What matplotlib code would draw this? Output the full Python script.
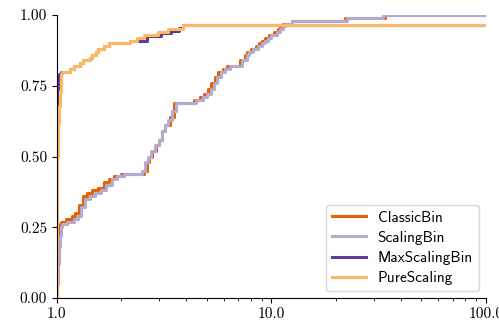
import numpy as np
import matplotlib
matplotlib.use("Agg")
import matplotlib.pyplot as plt
from matplotlib.ticker import FormatStrFormatter, LogLocator, NullFormatter

# step breakpoints (x = ratio, y = fraction of instances)
classic_x = [1.0, 1.002, 1.01, 1.03, 1.05, 1.1, 1.17, 1.22, 1.27, 1.32, 1.38, 1.46, 1.55, 1.65, 1.75, 1.85, 2.0,
             2.55, 2.62, 2.7, 2.78, 2.9, 3.0, 3.1, 3.2, 3.35, 3.5, 4.35, 4.65, 4.85, 5.05, 5.25, 5.45, 5.65, 5.95,
             6.2, 7.1, 7.5, 7.7, 8.0, 8.45, 8.75, 9.05, 9.35, 9.75, 10.3, 10.7, 11.0, 11.3, 12.4, 22.0, 34.0, 100.0]
classic_y = [0.0, 0.22, 0.24, 0.26, 0.27, 0.28, 0.29, 0.30, 0.33, 0.36, 0.37, 0.38, 0.39, 0.41, 0.42, 0.43, 0.44,
             0.45, 0.48, 0.50, 0.52, 0.54, 0.56, 0.59, 0.61, 0.64, 0.69, 0.70, 0.71, 0.72, 0.74, 0.76, 0.78, 0.80, 0.81,
             0.82, 0.84, 0.86, 0.87, 0.88, 0.89, 0.90, 0.91, 0.92, 0.93, 0.94, 0.95, 0.96, 0.968, 0.979, 0.99, 1.0, 1.0]

scaling_x = [1.0, 1.005, 1.01, 1.02, 1.03, 1.04, 1.06, 1.12, 1.2, 1.25, 1.3, 1.35, 1.42, 1.5, 1.6, 1.7, 1.8, 1.9,
             2.05, 2.5, 2.58, 2.67, 2.76, 2.86, 3.0, 3.1, 3.2, 3.3, 3.45, 3.6, 4.45, 4.8, 5.0, 5.2, 5.4, 5.6, 5.8,
             6.1, 6.4, 7.3, 7.7, 7.9, 8.2, 8.7, 9.0, 9.3, 9.6, 10.0, 10.6, 11.0, 11.3, 11.6, 12.5, 22.5, 33.0, 100.0]
scaling_y = [0.0, 0.05, 0.12, 0.18, 0.22, 0.25, 0.26, 0.27, 0.28, 0.29, 0.32, 0.35, 0.36, 0.37, 0.38, 0.40, 0.42,
             0.43, 0.44, 0.45, 0.48, 0.50, 0.52, 0.54, 0.56, 0.59, 0.61, 0.63, 0.66, 0.69, 0.70, 0.71, 0.72, 0.74,
             0.76, 0.78, 0.80, 0.81, 0.82, 0.84, 0.86, 0.87, 0.88, 0.89, 0.90, 0.91, 0.92, 0.93, 0.94, 0.95, 0.96,
             0.968, 0.979, 0.99, 1.0, 1.0]

maxscaling_x = [1.0, 1.003, 1.006, 1.01, 1.02, 1.04, 1.15, 1.2, 1.28, 1.32, 1.42, 1.46, 1.52, 1.56, 1.65, 1.75,
                2.2, 2.62, 3.05, 3.4, 3.7, 3.85, 100.0]
maxscaling_y = [0.0, 0.4, 0.6, 0.7, 0.79, 0.80, 0.81, 0.82, 0.83, 0.84, 0.85, 0.86, 0.87, 0.88, 0.89, 0.90,
                0.91, 0.925, 0.935, 0.945, 0.955, 0.965, 0.965]

pure_x = [1.0, 1.003, 1.006, 1.01, 1.02, 1.03, 1.045, 1.06, 1.15, 1.2, 1.28, 1.32, 1.42, 1.46, 1.52, 1.56, 1.65,
          1.75, 2.2, 2.35, 2.55, 2.95, 3.3, 3.85, 100.0]
pure_y = [0.0, 0.3, 0.5, 0.62, 0.68, 0.73, 0.79, 0.80, 0.81, 0.82, 0.83, 0.84, 0.85, 0.86, 0.87, 0.88, 0.89,
          0.90, 0.91, 0.92, 0.93, 0.94, 0.95, 0.965, 0.965]

labels = ["ClassicBin", "ScalingBin", "MaxScalingBin", "PureScaling"]
colors = ["#e66101", "#b2abd2", "#5e3c99", "#fdb863"]

plt.rcParams["font.family"] = "serif"
plt.rcParams["font.serif"] = ["cmr10"]
plt.rcParams["axes.formatter.use_mathtext"] = True

fig = plt.figure(figsize=(4.99, 3.28), dpi=100)
ax = fig.add_axes([0.114, 0.0915, 0.86, 0.8625])

series = [(classic_x, classic_y), (scaling_x, scaling_y), (maxscaling_x, maxscaling_y), (pure_x, pure_y)]
for (xs, ys), lab, col in zip(series, labels, colors):
    ax.plot(xs, ys, drawstyle="steps-post", color=col, lw=2.2, label=lab)

ax.set_xscale("log")
ax.set_xlim(1, 100)
ax.set_ylim(0, 1)
ax.set_xticks([1, 10, 100])
ax.xaxis.set_major_formatter(FormatStrFormatter("%.1f"))
ax.xaxis.set_minor_locator(LogLocator(base=10, subs=np.arange(2, 10)))
ax.xaxis.set_minor_formatter(NullFormatter())
ax.set_yticks([0, 0.25, 0.5, 0.75, 1.0])
ax.yaxis.set_major_formatter(FormatStrFormatter("%.2f"))
ax.tick_params(labelsize=11)
ax.spines["top"].set_visible(False)
ax.spines["right"].set_visible(False)

ax.legend(loc="lower right", prop={"family": "cmss10", "size": 11},
          labelspacing=0.4, handlelength=2.2, borderaxespad=0.45)

fig.savefig("out.png", dpi=100)
